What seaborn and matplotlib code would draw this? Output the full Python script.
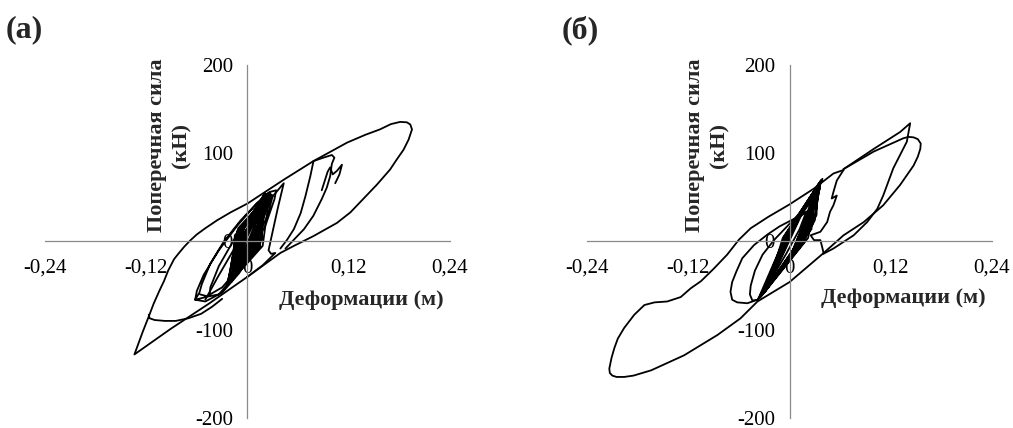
import numpy as np
import pandas as pd
import matplotlib
matplotlib.use("Agg")
import matplotlib.pyplot as plt
import seaborn as sns

# ---- axis ticks ----
x_ticks = [-0.24, -0.12, 0.0, 0.12, 0.24]
x_tick_labels = ["-0,24", "-0,12", "0", "0,12", "0,24"]
y_ticks = [-200, -100, 0, 100, 200]
y_tick_labels = ["-200", "-100", "0", "100", "200"]

x_label = "Деформации (м)"
y_label = "Поперечная сила\n(кН)"
panel_titles = ["(а)", "(б)"]

# ---- panel (а): dense small cycles (left tip, lower mid, right tip, upper mid) ----
a_core_lx = [-0.018, -0.015, -0.021, -0.012, -0.023, -0.016, -0.010, -0.019,
             -0.014, -0.025, -0.020, -0.017, -0.022, -0.013, -0.024, -0.018]
a_core_ly = [-44, -40, -47, -36, -49, -42, -30, -46, -39, -51, -45, -43, -48, -38, -50, -44]
a_core_dx = [0.005, 0.009, 0.013, 0.017, 0.007, 0.011, 0.015, 0.004,
             0.012, 0.008, 0.016, 0.006, 0.010, 0.014, 0.018, 0.003]
a_core_dy = [-4, 6, -8, 2, -12, 4, -6, 8, -2, -10, 0, 5, -7, 3, -5, 1]
a_core_rx = [0.022, 0.020, 0.024, 0.018, 0.021, 0.025, 0.016, 0.023,
             0.021, 0.027, 0.019, 0.024, 0.022, 0.017, 0.026, 0.020]
a_core_ry = [50, 46, 53, 42, 55, 49, 38, 51, 48, 56, 52, 47, 54, 44, 52, 49]
a_core_ux = [-0.002, -0.006, -0.010, -0.014, -0.004, -0.008, -0.012, -0.001,
             -0.009, -0.005, -0.013, -0.003, -0.007, -0.011, -0.015, 0.000]
a_core_uy = [10, 2, 14, 6, 16, 0, 12, 4, 8, 18, 5, 11, 3, 15, 7, 9]

# ---- panel (а): wider loops and envelope ----
a_mid_x = [-0.056, -0.048, -0.030, -0.010, 0.010, 0.024, 0.030, 0.025, 0.012, -0.008, -0.028, -0.044,
           -0.054, -0.057, -0.062, -0.050, -0.030, -0.010, 0.008, 0.022, 0.032, 0.034, 0.026, 0.010,
           -0.012, -0.034, -0.052, -0.060, -0.062, -0.045, -0.034, -0.016, 0.000, 0.014, 0.026, 0.028,
           0.020, 0.004, -0.016, -0.034, -0.044, -0.045]
a_mid_y = [-60, -62, -52, -30, 0, 30, 52, 55, 44, 24, 0, -25,
           -48, -58, -66, -68, -58, -36, -8, 20, 48, 58, 56, 42,
           18, -10, -38, -56, -66, -62, -60, -40, -14, 14, 44, 52,
           48, 28, 2, -28, -52, -62]

a_env_x = [0.000, 0.039, 0.055, 0.078, 0.106, 0.122, 0.137, 0.153, 0.169, 0.177, 0.185, 0.191,
           0.195, 0.193, 0.189, 0.181, 0.170, 0.157, 0.140, 0.118, 0.078, 0.043, 0.000, -0.020,
           -0.036, -0.050, -0.060, -0.068, -0.075, -0.082, -0.087, -0.094, -0.099, -0.104, -0.111, -0.117,
           -0.124, -0.134, -0.091, -0.045, 0.000]
a_env_y = [-40, -13, -5, 6, 21, 33, 48, 64, 81.5, 93, 104, 115.5,
           127, 132.5, 135, 135.5, 133, 127, 121, 112, 91, 70, 43, 33,
           24, 15, 8, 1, -6, -14, -20, -33, -45, -55, -70, -85,
           -102, -128, -99, -70, -40]

a_bot_x = [-0.117, -0.116, -0.110, -0.098, -0.085, -0.070, -0.055, -0.042, -0.030]
a_bot_y = [-83, -87, -89, -90, -90, -87, -82, -74, -65]

a_t3_x = [-0.050, -0.035, -0.018, 0.000, 0.020, 0.043, 0.036, 0.030, 0.025, 0.028, 0.033, 0.018, 0.000]
a_t3_y = [-66, -40, -12, 14, 40, 66, 38, 12, -10, -14, -13, -27, -40]

a_t4_x = [0.078, 0.0745, 0.0686, 0.063, 0.055, 0.047, 0.039]
a_t4_y = [90, 74, 51, 32, 14, 2, -8]

a_t5_x = [0.078, 0.090, 0.100, 0.103, 0.100, 0.098, 0.094, 0.088, 0.078, 0.067, 0.055, 0.045]
a_t5_y = [91, 95, 98, 95, 88, 74, 61, 48, 29, 14, 2, -8]

a_jag_x = [0.088, 0.092, 0.095, 0.098, 0.101, 0.106, 0.112, 0.109, 0.104]
a_jag_y = [58, 70, 79, 84, 76, 80, 87, 76, 66]

# ---- panel (б): dense small cycles ----
b_core_lx = [-0.034, -0.030, -0.036, -0.026, -0.032, -0.028, -0.035, -0.022,
             -0.033, -0.029, -0.037, -0.031, -0.027, -0.035, -0.024, -0.033]
b_core_ly = [-62, -58, -64, -52, -60, -55, -63, -45, -61, -57, -65, -59, -54, -64, -48, -60]
b_core_dx = [0.030, 0.022, 0.012, 0.026, 0.004, 0.018, 0.028, 0.008,
             0.020, 0.032, 0.002, 0.016, 0.024, 0.010, 0.014, 0.006]
b_core_dy = [24, 4, -6, 14, -10, 0, 20, -4, 8, 30, -14, 2, 12, -8, -2, -12]
b_core_rx = [0.036, 0.034, 0.038, 0.030, 0.035, 0.032, 0.037, 0.028,
             0.036, 0.033, 0.039, 0.036, 0.031, 0.034, 0.029, 0.037]
b_core_ry = [66, 62, 70, 58, 64, 60, 68, 52, 67, 63, 71, 60, 56, 65, 54, 69]
b_core_ux = [-0.004, 0.004, -0.008, 0.010, -0.002, 0.008, -0.006, 0.002,
             0.012, -0.003, 0.006, -0.007, 0.000, 0.014, -0.005, 0.004]
b_core_uy = [8, 16, 4, 24, 12, 22, 6, 14, 28, 10, 18, 2, 12, 30, 6, 20]

# ---- panel (б): wider loops and envelope ----
b_loop1_x = [-0.038, -0.050, -0.062, -0.068, -0.070, -0.068, -0.063, -0.056, -0.042, -0.026, -0.012, 0.002,
             0.015, 0.020, 0.012, -0.004, -0.020, -0.038]
b_loop1_y = [-66, -70, -69, -66, -57, -46, -34, -19, -4, 8, 17, 24,
             30, 34, 14, -14, -40, -66]

b_loop2_x = [-0.038, -0.044, -0.047, -0.046, -0.041, -0.032, -0.018, 0.000, 0.020, 0.030]
b_loop2_y = [-66, -67, -60, -50, -33, -15, 2, 20, 40, 55]

b_env_x = [0.064, 0.052, 0.029, 0.000, -0.025, -0.046, -0.060, -0.074, -0.090, -0.105, -0.117, -0.129,
           -0.145, -0.160, -0.172, -0.184, -0.196, -0.2035, -0.2077, -0.211, -0.2136, -0.213, -0.210,
           -0.205, -0.196, -0.185, -0.164, -0.125, -0.0855, -0.058, -0.038, 0.000, 0.0405]
b_env_y = [81, 77, 60, 42, 28, 15, 2, -15, -31, -45, -53, -63,
           -68, -69, -72, -83, -98, -110, -121, -132, -144, -149, -152,
           -153.5, -153.5, -152, -146, -129, -106, -87, -68, -46, -13]

b_round_x = [0.0405, 0.064, 0.088, 0.111, 0.131, 0.147, 0.152, 0.155, 0.1555, 0.152, 0.147, 0.141,
             0.135, 0.100, 0.064]
b_round_y = [-13, 7, 22, 41, 64, 86, 96, 105, 111, 116, 118, 118.5,
             117, 102, 82]

b_sharp_x = [0.064, 0.100, 0.131, 0.143, 0.139, 0.123, 0.111, 0.104, 0.092, 0.076, 0.052, 0.040]
b_sharp_y = [82, 105, 124, 134, 113, 83, 52, 37, 22, 7, -8, -14]

b_jag_x = [0.064, 0.056, 0.052, 0.050, 0.056, 0.052, 0.048, 0.0446, 0.0366, 0.025, 0.029, 0.0366,
           0.0386, 0.0405]
b_jag_y = [81, 69, 56, 48.7, 52, 41, 33.6, 22, 11, 7, 1.5, 1.5, -6, -13.6]


def cycles(lx, ly, dx, dy, rx, ry, ux, uy):
    # chain the read-off cycle corners into one path: left tip -> lower side -> right tip -> upper side
    xs, ys = [], []
    for i in range(len(lx)):
        xs += [lx[i], dx[i], rx[i], ux[i]]
        ys += [ly[i], dy[i], ry[i], uy[i]]
    xs.append(lx[0])
    ys.append(ly[0])
    return xs, ys


def to_frame(parts):
    rows = []
    for name, xs, ys in parts:
        for i, (xv, yv) in enumerate(zip(xs, ys)):
            rows.append({"seg": name, "order": i, "x": xv, "y": yv})
    return pd.DataFrame(rows)


a_core_x, a_core_y = cycles(a_core_lx, a_core_ly, a_core_dx, a_core_dy,
                            a_core_rx, a_core_ry, a_core_ux, a_core_uy)
b_core_x, b_core_y = cycles(b_core_lx, b_core_ly, b_core_dx, b_core_dy,
                            b_core_rx, b_core_ry, b_core_ux, b_core_uy)

df_a = to_frame([
    ("core", a_core_x, a_core_y), ("mid", a_mid_x, a_mid_y), ("env", a_env_x, a_env_y),
    ("bot", a_bot_x, a_bot_y), ("t3", a_t3_x, a_t3_y), ("t4", a_t4_x, a_t4_y),
    ("t5", a_t5_x, a_t5_y), ("jag", a_jag_x, a_jag_y),
])
df_b = to_frame([
    ("core", b_core_x, b_core_y), ("loop1", b_loop1_x, b_loop1_y), ("loop2", b_loop2_x, b_loop2_y),
    ("env", b_env_x, b_env_y), ("round", b_round_x, b_round_y), ("sharp", b_sharp_x, b_sharp_y),
    ("jag", b_jag_x, b_jag_y),
])

sns.set_style("white")
plt.rcParams["font.family"] = ["Liberation Serif", "DejaVu Serif"]

fig = plt.figure(figsize=(10.13, 4.28), dpi=100)
ax_pos = [[0.0444, 0.0234, 0.3998, 0.8248], [0.5795, 0.0234, 0.3998, 0.8248]]
label_pos = [[(0.135, -66), (-0.093, 109)], [(0.135, -64.5), (-0.0975, 109)]]
title_x = [0.006, 0.554]

for k, df in enumerate([df_a, df_b]):
    ax = fig.add_axes(ax_pos[k])
    sns.lineplot(data=df, x="x", y="y", units="seg", estimator=None, sort=False,
                 color="black", linewidth=1.3, ax=ax)
    ax.set_xlim(-0.24, 0.24)
    ax.set_ylim(-200, 200)
    for side in ["top", "right"]:
        ax.spines[side].set_visible(False)
    for side in ["left", "bottom"]:
        ax.spines[side].set_position("zero")
        ax.spines[side].set_color("#8a8a8a")
        ax.spines[side].set_linewidth(0.9)
    ax.set_xticks(x_ticks)
    ax.set_xticklabels(x_tick_labels)
    ax.set_yticks(y_ticks)
    ax.set_yticklabels(y_tick_labels)
    ax.tick_params(axis="both", direction="out", length=5.5, width=0.9, color="#8a8a8a",
                   labelsize=15, labelcolor="black")
    ax.tick_params(axis="x", pad=7)
    ax.tick_params(axis="y", pad=5)
    ax.set_xlabel("")
    ax.set_ylabel("")
    ax.patch.set_alpha(0)
    ax.text(*label_pos[k][0], x_label, ha="center", va="center", fontsize=16, fontweight="bold")
    ax.text(*label_pos[k][1], y_label, ha="center", va="center", rotation=90,
            fontsize=16, fontweight="bold", multialignment="center", linespacing=1.3)
    fig.text(title_x[k], 0.93, panel_titles[k], ha="left", va="center", fontsize=23, fontweight="bold")

fig.savefig("out.png", dpi=100)
